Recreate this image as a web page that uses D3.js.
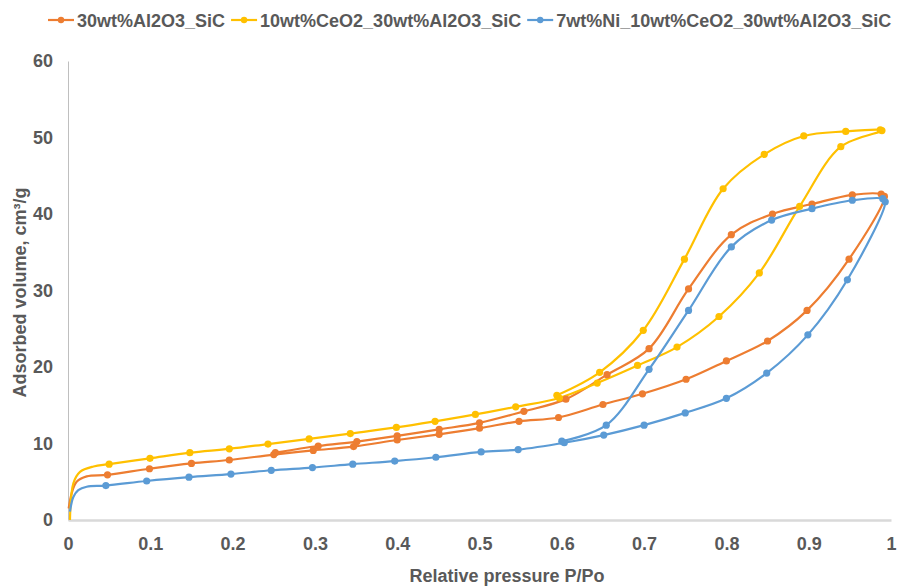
<!DOCTYPE html>
<html>
<head>
<meta charset="utf-8">
<script src="https://cdn.jsdelivr.net/npm/d3@7"></script>
<style>
  body { margin: 0; background: #fff; }
  svg text { font-family: "Liberation Sans", Arial, sans-serif; font-weight: bold; fill: #595959; }
</style>
</head>
<body>
<div id="chart"></div>
<script>
// series names
var seriesNames = ["30wt%Al2O3_SiC", "10wt%CeO2_30wt%Al2O3_SiC", "7wt%Ni_10wt%CeO2_30wt%Al2O3_SiC"];

// x ticks / y ticks
var xTicks = [0, 0.1, 0.2, 0.3, 0.4, 0.5, 0.6, 0.7, 0.8, 0.9, 1];
var yTicks = [0, 10, 20, 30, 40, 50, 60];

// low pressure part of each curve (no markers in the picture)
var alStart = [[0.0008, 1.5], [0.0045, 3.5], [0.0105, 5.0], [0.0227, 5.7]];
var ceStart = [[0.0024, 0.0], [0.0065, 4.8], [0.0146, 6.3], [0.031, 7.0]];
var niStart = [[0.0024, 1.1], [0.0065, 3.0], [0.0125, 3.9], [0.0227, 4.35]];

// 30wt%Al2O3_SiC : adsorption then desorption  [P/Po, volume]
var alAds = [[0.048, 5.9], [0.099, 6.7], [0.150, 7.4], [0.196, 7.84], [0.250, 8.55], [0.298, 9.1],
  [0.347, 9.6], [0.400, 10.46], [0.451, 11.2], [0.500, 12.0], [0.548, 12.9], [0.596, 13.4],
  [0.650, 15.1], [0.698, 16.5], [0.751, 18.4], [0.800, 20.8], [0.850, 23.4], [0.898, 27.4],
  [0.949, 34.1], [0.992, 42.3]];
var alDes = [[0.988, 42.6], [0.953, 42.5], [0.904, 41.3], [0.856, 40.0], [0.806, 37.3], [0.754, 30.2],
  [0.706, 22.4], [0.655, 19.0], [0.605, 15.8], [0.554, 14.2], [0.500, 12.7], [0.451, 11.85],
  [0.400, 11.0], [0.351, 10.25], [0.304, 9.67], [0.252, 8.8]];

// 10wt%CeO2_30wt%Al2O3_SiC
var ceAds = [[0.050, 7.3], [0.0996, 8.06], [0.148, 8.8], [0.196, 9.3], [0.243, 9.93], [0.293, 10.6],
  [0.343, 11.3], [0.399, 12.1], [0.446, 12.9], [0.495, 13.8], [0.544, 14.8], [0.597, 15.95],
  [0.643, 17.9], [0.692, 20.2], [0.740, 22.6], [0.791, 26.6], [0.840, 32.3], [0.889, 41.0],
  [0.939, 48.8], [0.989, 50.9]];
var ceDes = [[0.987, 51.0], [0.945, 50.8], [0.894, 50.2], [0.846, 47.8], [0.796, 43.3], [0.749, 34.1],
  [0.699, 24.8], [0.646, 19.3], [0.594, 16.3]];

// 7wt%Ni_10wt%CeO2_30wt%Al2O3_SiC
var niAds = [[0.046, 4.5], [0.0956, 5.1], [0.147, 5.6], [0.198, 6.0], [0.247, 6.5], [0.297, 6.85],
  [0.346, 7.3], [0.397, 7.7], [0.447, 8.2], [0.502, 8.9], [0.547, 9.2], [0.603, 10.1],
  [0.651, 11.1], [0.700, 12.4], [0.750, 14.0], [0.800, 15.9], [0.849, 19.2], [0.899, 24.2],
  [0.947, 31.4], [0.993, 41.6]];
var niDes = [[0.990, 42.0], [0.953, 41.8], [0.904, 40.7], [0.855, 39.2], [0.806, 35.7], [0.754, 27.4],
  [0.706, 19.7], [0.654, 12.4], [0.600, 10.3]];

var colors = ["#ED7D31", "#FFC000", "#5B9BD5"];

var series = [
  { name: seriesNames[0], start: alStart, pts: alAds.concat(alDes), color: colors[0] },
  { name: seriesNames[1], start: ceStart, pts: ceAds.concat(ceDes), color: colors[1] },
  { name: seriesNames[2], start: niStart, pts: niAds.concat(niDes), color: colors[2] }
];

var width = 902, height = 587;
var margin = {top: 61, right: 11, bottom: 67, left: 68};

var svg = d3.select("#chart").append("svg")
    .attr("width", width)
    .attr("height", height);

svg.append("rect")
    .attr("width", width)
    .attr("height", height)
    .attr("fill", "#fff");

var x = d3.scaleLinear()
    .domain([0, 1])
    .range([margin.left, width - margin.right]);

var y = d3.scaleLinear()
    .domain([0, 60])
    .range([height - margin.bottom, margin.top]);

// y axis: light line, no ticks
var yAxis = d3.axisLeft(y)
    .tickValues(yTicks)
    .tickSize(0)
    .tickPadding(15)
    .tickFormat(d3.format("d"));

svg.append("g")
    .attr("class", "yAxis")
    .attr("transform", "translate(" + margin.left + ",0)")
    .call(yAxis)
    .call(function(g) {
      g.select(".domain").attr("stroke", "#BFBFBF").attr("stroke-width", 1);
      g.selectAll(".tick text").style("font-size", "18px").attr("fill", "#595959");
    });

var xAxis = d3.axisBottom(x)
    .tickValues(xTicks)
    .tickSize(0)
    .tickPadding(17)
    .tickFormat(function(d) { return d === 0 || d === 1 ? d3.format("d")(d) : d3.format(".1f")(d); });

svg.append("g")
    .attr("class", "xAxis")
    .attr("transform", "translate(0," + y(0) + ")")
    .call(xAxis)
    .call(function(g) {
      g.select(".domain").attr("stroke", "#D9D9D9").attr("stroke-width", 2.5);
      g.selectAll(".tick text").style("font-size", "18px").attr("fill", "#595959");
    });

// curves
var line = d3.line()
    .x(function(d) { return x(d[0]); })
    .y(function(d) { return y(d[1]); })
    .curve(d3.curveCatmullRom.alpha(0.5));

var plot = svg.append("g");

series.forEach(function(s) {
  plot.append("path")
      .datum(s.start.concat(s.pts))
      .attr("fill", "none")
      .attr("stroke", s.color)
      .attr("stroke-width", 2.2)
      .attr("d", line);
});

series.forEach(function(s) {
  plot.selectAll(null)
      .data(s.pts)
      .enter().append("circle")
      .attr("cx", function(d) { return x(d[0]); })
      .attr("cy", function(d) { return y(d[1]); })
      .attr("r", 3.6)
      .attr("fill", s.color);
});

// axis titles
svg.append("text")
    .attr("x", 507)
    .attr("y", 582)
    .attr("text-anchor", "middle")
    .style("font-size", "18px")
    .text("Relative pressure P/Po");

svg.append("text")
    .attr("transform", "translate(26," + ((y(0) + y(60)) / 2 + 2) + ") rotate(-90)")
    .attr("text-anchor", "middle")
    .style("font-size", "18px")
    .text("Adsorbed volume, cm³/g");

// legend
var legend = svg.append("g").attr("class", "legend");
var lx = 48;
series.forEach(function(s) {
  var item = legend.append("g").attr("transform", "translate(" + lx + ",20)");
  item.append("line")
      .attr("x1", 0).attr("x2", 26)
      .attr("stroke", s.color)
      .attr("stroke-width", 2.2);
  item.append("circle")
      .attr("cx", 13)
      .attr("r", 3.2)
      .attr("fill", s.color);
  var t = item.append("text")
      .attr("x", 29)
      .attr("y", 6.5)
      .style("font-size", "18px")
      .text(s.name);
  lx += 29 + t.node().getComputedTextLength() + 6;
});
</script>
</body>
</html>
